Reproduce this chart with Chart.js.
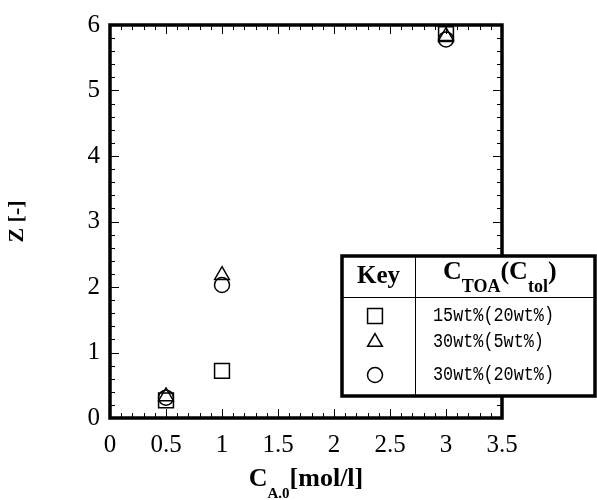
<!DOCTYPE html>
<html>
<head>
<meta charset="utf-8">
<script src="https://cdn.jsdelivr.net/npm/chart.js@4/dist/chart.umd.min.js"></script>
<style>
  html, body { margin: 0; padding: 0; background: #fff; }
  #wrap { width: 597px; height: 500px; }
</style>
</head>
<body>
<div id="wrap"><canvas id="myChart" width="597" height="500"></canvas></div>
<script>
// data
const concA = [0.5, 1, 3];
const zSquare = [0.27, 0.72, 5.86];    // 15wt%(20wt%)
const zTriangle = [0.33, 2.18, 5.83];  // 30wt%(5wt%)
const zCircle = [0.31, 2.03, 5.78];    // 30wt%(20wt%)
const seriesLabels = ['15wt%(20wt%)', '30wt%(5wt%)', '30wt%(20wt%)'];
const seriesStyles = ['rect', 'triangle', 'circle'];
const seriesRadius = [10.5, 8.5, 7.5];
const xTicks = [0, 0.5, 1, 1.5, 2, 2.5, 3, 3.5];
const yTicks = [0, 1, 2, 3, 4, 5, 6];

const serif = '"Liberation Serif", "Times New Roman", serif';
const mono = '"Liberation Mono", "DejaVu Sans Mono", monospace';

function toPoints(ys) {
  return concA.map((x, i) => ({ x: x, y: ys[i] }));
}

function makeSet(i, ys) {
  return {
    label: seriesLabels[i],
    data: toPoints(ys),
    pointStyle: seriesStyles[i],
    pointRadius: seriesRadius[i],
    pointBorderWidth: 1.5,
    borderColor: '#000',
    backgroundColor: 'rgba(0,0,0,0)',
    showLine: false,
  };
}

// frame, inward ticks, x title and key table
const framePlugin = {
  id: 'frame',
  afterDraw(chart) {
    const ctx = chart.ctx;
    const xs = chart.scales.x;
    const ys = chart.scales.y;
    const a = chart.chartArea;
    ctx.save();
    ctx.strokeStyle = '#000';

    // minor + major ticks on all four sides
    ctx.lineWidth = 1;
    for (let i = 0; i <= 35; i++) {
      const px = Math.round(xs.getPixelForValue(i / 10)) + 0.5;
      const len = (i % 5 === 0) ? 9 : 5;
      ctx.beginPath();
      ctx.moveTo(px, a.bottom); ctx.lineTo(px, a.bottom - len);
      ctx.moveTo(px, a.top); ctx.lineTo(px, a.top + len);
      ctx.stroke();
    }
    for (let i = 0; i <= 30; i++) {
      const py = Math.round(ys.getPixelForValue(i / 5)) + 0.5;
      const len = (i % 5 === 0) ? 9 : 5;
      ctx.beginPath();
      ctx.moveTo(a.left, py); ctx.lineTo(a.left + len, py);
      ctx.moveTo(a.right, py); ctx.lineTo(a.right - len, py);
      ctx.stroke();
    }

    ctx.lineWidth = 3.5;
    ctx.strokeRect(a.left, a.top, a.right - a.left, a.bottom - a.top);

    // x axis title with subscript
    ctx.fillStyle = '#000';
    ctx.textBaseline = 'alphabetic';
    ctx.textAlign = 'left';
    const big = 'bold 26px ' + serif;
    const small = 'bold 15px ' + serif;
    ctx.font = big; const wC = ctx.measureText('C').width;
    ctx.font = small; const wS = ctx.measureText('A.0').width;
    ctx.font = big; const wU = ctx.measureText('[mol/l]').width;
    let tx = (a.left + a.right) / 2 - (wC + wS + wU) / 2;
    const ty = 486;
    ctx.font = big; ctx.fillText('C', tx, ty); tx += wC;
    ctx.font = small; ctx.fillText('A.0', tx, ty + 12); tx += wS;
    ctx.font = big; ctx.fillText('[mol/l]', tx, ty);

    // key table
    const kx = 342, ky = 256, kr = 595, kb = 396, kdiv = 415, hdiv = 297;
    ctx.fillStyle = '#fff';
    ctx.fillRect(kx, ky, kr - kx, kb - ky);
    ctx.lineWidth = 1;
    ctx.beginPath();
    ctx.moveTo(kdiv + 0.5, ky); ctx.lineTo(kdiv + 0.5, kb);
    ctx.moveTo(kx, hdiv + 0.5); ctx.lineTo(kr, hdiv + 0.5);
    ctx.stroke();
    ctx.lineWidth = 3.5;
    ctx.strokeRect(kx, ky, kr - kx, kb - ky);

    ctx.fillStyle = '#000';
    ctx.font = 'bold 25px ' + serif;
    ctx.textAlign = 'center';
    ctx.fillText('Key', (kx + kdiv) / 2, 283);

    // header C_TOA(C_tol)
    ctx.textAlign = 'left';
    const hb = 'bold 26px ' + serif, hs = 'bold 18px ' + serif;
    const parts = [['C', hb, 0], ['TOA', hs, 13], ['(C', hb, 0], ['tol', hs, 13], [')', hb, 0]];
    let hx = 443;
    parts.forEach(p => {
      ctx.font = p[1];
      ctx.fillText(p[0], hx, 279 + p[2]);
      hx += ctx.measureText(p[0]).width;
    });

    // rows
    const rowY = [316, 342, 375];
    ctx.textBaseline = 'middle';
    seriesLabels.forEach((lab, i) => {
      ctx.fillStyle = 'rgba(0,0,0,0)';
      ctx.lineWidth = 1.5;
      Chart.helpers.drawPoint(ctx, { pointStyle: seriesStyles[i], radius: seriesRadius[i], rotation: 0, borderWidth: 1.5 }, 375, rowY[i]);
      ctx.fillStyle = '#000';
      ctx.font = '20px ' + mono;
      ctx.save();
      ctx.translate(433, rowY[i]);
      ctx.scale(0.84, 1);
      ctx.fillText(lab, 0, 0);
      ctx.restore();
    });

    ctx.restore();
  }
};

const ctx = document.getElementById('myChart').getContext('2d');
const myChart = new Chart(ctx, {
  type: 'scatter',
  data: {
    datasets: [
      makeSet(0, zSquare),
      makeSet(1, zTriangle),
      makeSet(2, zCircle),
    ],
  },
  options: {
    responsive: false,
    animation: false,
    layout: { padding: { top: 25, right: 95, left: 0, bottom: 0 } },
    plugins: {
      legend: { display: false },
      tooltip: { enabled: false },
    },
    scales: {
      x: {
        type: 'linear',
        min: 0,
        max: 3.5,
        afterBuildTicks: (s) => { s.ticks = xTicks.map(v => ({ value: v })); },
        afterFit: (s) => { s.height = 82; },
        grid: { display: false, drawTicks: false },
        border: { display: false },
        ticks: {
          color: '#000',
          padding: 12,
          maxRotation: 0,
          autoSkip: false,
          font: { family: serif, size: 25 },
          callback: (v) => String(v),
        },
      },
      y: {
        type: 'linear',
        min: 0,
        max: 6,
        afterBuildTicks: (s) => { s.ticks = yTicks.map(v => ({ value: v })); },
        afterFit: (s) => { s.width = 110; },
        grid: { display: false, drawTicks: false },
        border: { display: false },
        title: {
          display: true,
          text: 'Z [-]',
          color: '#000',
          padding: { bottom: 22 },
          font: { family: serif, size: 22, weight: 'bold' },
        },
        ticks: {
          color: '#000',
          padding: 10,
          autoSkip: false,
          font: { family: serif, size: 25 },
        },
      },
    },
  },
  plugins: [framePlugin],
});
</script>
</body>
</html>
